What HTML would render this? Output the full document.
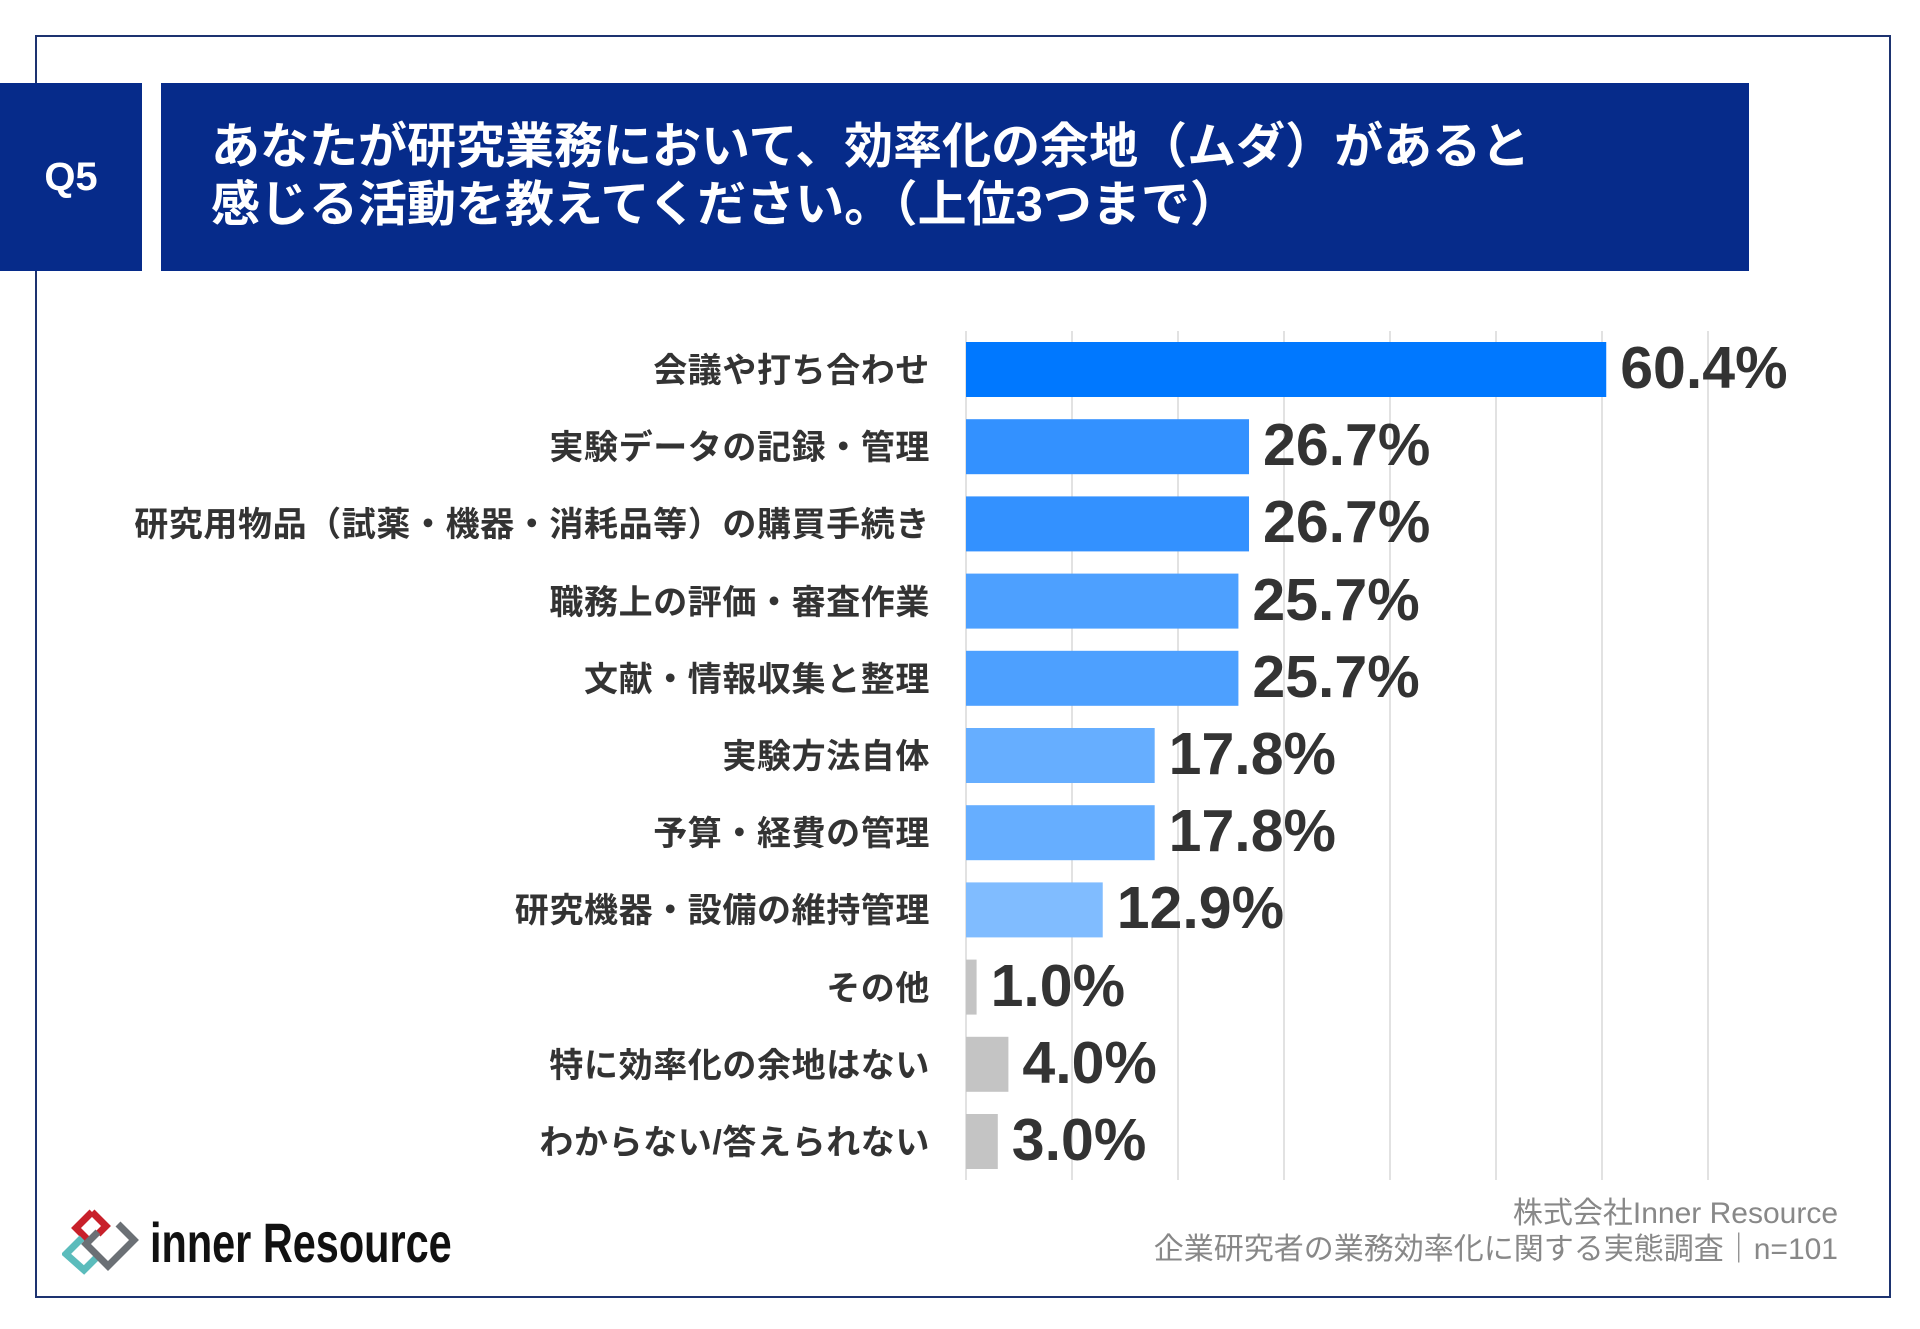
<!DOCTYPE html>
<html><head><meta charset="utf-8"><style>
html,body{margin:0;padding:0;background:#fff;}
body{width:1920px;height:1329px;position:relative;overflow:hidden;font-family:"Liberation Sans","Noto Sans CJK JP",sans-serif;}
.abs{position:absolute;}
.frame{left:35px;top:35px;width:1852px;height:1259px;border:2px solid #1d3370;}
.q{left:0;top:83px;width:142px;height:188px;background:#062b8a;color:#fff;font-weight:bold;font-size:40px;display:flex;align-items:center;justify-content:center;}
.title{left:161px;top:83px;width:1588px;height:188px;background:#062b8a;color:#fff;}
.title div{position:absolute;left:50px;font-weight:bold;font-size:49px;white-space:nowrap;}
.lbl{right:990px;font-size:34px;letter-spacing:0.6px;font-weight:bold;color:#333;white-space:nowrap;text-align:right;}
.val{font-family:"Liberation Sans Narrow","Liberation Sans",sans-serif;font-weight:bold;font-size:59px;color:#333;white-space:nowrap;}
.foot{right:82px;color:#888;font-size:30px;text-align:right;white-space:nowrap;}
</style></head><body>
<div class="abs frame"></div>
<div class="abs q">Q5</div>
<div class="abs title">
<div style="top:24px">あなたが研究業務において、効率化の余地（ムダ）があると</div>
<div style="top:82px">感じる活動を教えてください。（上位3つまで）</div>
</div>
<svg class="abs" style="left:0;top:0" width="1920" height="1329" id="chart"></svg>
<div class="abs foot" style="top:1188px">株式会社Inner Resource</div>
<div class="abs foot" style="top:1224px">企業研究者の業務効率化に関する実態調査｜n=101</div>
<svg class="abs" style="left:62px;top:1208px" width="80" height="68">
<path d="M30 4 L44 18 L36 26" fill="none" stroke="#c8202a" stroke-width="7"/>
<path d="M30 4 L14 20 L26 32" fill="none" stroke="#c8202a" stroke-width="7"/>
<path d="M20 30 L4 46 L22 62 L36 48" fill="none" stroke="#5bbcbc" stroke-width="7"/>
<path d="M36 24 L24 36 L46 58 L72 32 L56 16" fill="none" stroke="#6b7075" stroke-width="7"/>
</svg>
<div class="abs" style="left:150px;top:1210px;font-size:56px;font-weight:bold;color:#111;transform:scaleX(0.74);transform-origin:0 0;white-space:nowrap">inner Resource</div>
<script>
const categories=["会議や打ち合わせ","実験データの記録・管理","研究用物品（試薬・機器・消耗品等）の購買手続き","職務上の評価・審査作業","文献・情報収集と整理","実験方法自体","予算・経費の管理","研究機器・設備の維持管理","その他","特に効率化の余地はない","わからない/答えられない"];
const values=[60.4,26.7,26.7,25.7,25.7,17.8,17.8,12.9,1.0,4.0,3.0];
const colors=["#0078ff","#3391ff","#3391ff","#4da0ff","#4da0ff","#66aeff","#66aeff","#80bcff","#c4c4c4","#c4c4c4","#c4c4c4"];
const ticks=[0,10,20,30,40,50,60,70];
const NS="http://www.w3.org/2000/svg";
const svg=document.getElementById("chart");
const x0=966,pxPer=10.6,y0=342,pitch=77.2,bh=55;
const xs=v=>x0+v*pxPer, ys=i=>y0+i*pitch;
ticks.forEach(t=>{
const l=document.createElementNS(NS,"line");


l.setAttribute("x1",xs(t));l.setAttribute("x2",xs(t));l.setAttribute("y1",331);l.setAttribute("y2",1180);
l.setAttribute("stroke","#d9d9d9");l.setAttribute("stroke-width","1.5");svg.appendChild(l);});
values.forEach((v,i)=>{
const r=document.createElementNS(NS,"rect");


r.setAttribute("x",x0);r.setAttribute("y",ys(i));r.setAttribute("width",xs(v)-x0);r.setAttribute("height",bh);r.setAttribute("fill",colors[i]);svg.appendChild(r);
const d=document.createElement("div");


d.className="abs val";d.style.left=(xs(v)+14)+"px";d.style.top=(ys(i)-8)+"px";d.textContent=v.toFixed(1)+"%";document.body.appendChild(d);
const c=document.createElement("div");


c.className="abs lbl";c.style.top=(ys(i)+1)+"px";c.textContent=categories[i];document.body.appendChild(c);
});
</script>
</body></html>
